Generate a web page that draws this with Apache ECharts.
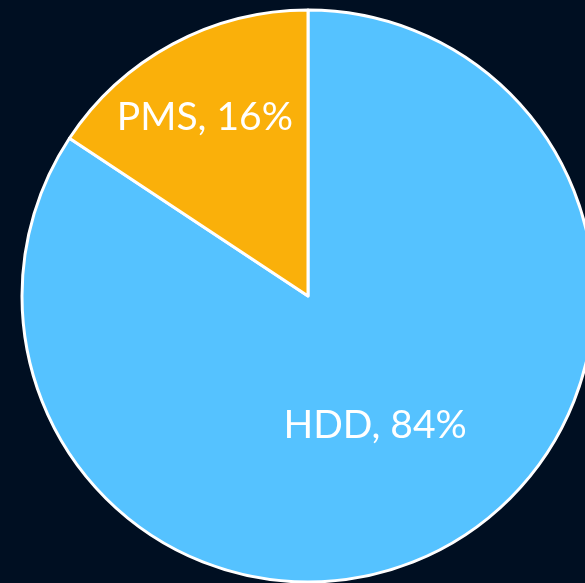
<!DOCTYPE html>
<html><head><meta charset="utf-8">
<style>html,body{margin:0;padding:0;background:#000f22;}#c{width:585px;height:583px;}</style>
<script src="https://cdn.jsdelivr.net/npm/echarts@6/dist/echarts.min.js"></script>
</head><body><div id="c"></div>
<script>
const categories = ['HDD', 'PMS'];
const values = [84.3, 15.7];
const colors = ['#55c2ff', '#fab00a'];
const labelShift = [[-2, 1], [-34, -50]];

const chart = echarts.init(document.getElementById('c'), null, {renderer: 'canvas'});
chart.setOption({
  backgroundColor: '#000f22',
  animation: false,
  series: [{
    type: 'pie',
    center: [308, 296],
    radius: 286,
    startAngle: 90,
    clockwise: true,
    data: categories.map((c, i) => ({name: c, value: values[i], itemStyle: {color: colors[i]}})),
    itemStyle: {borderColor: '#ffffff', borderWidth: 3},
    label: {
      show: true,
      position: 'inside',
      formatter: p => p.name + ', ' + Math.round(p.value) + '%',
      color: '#ffffff',
      fontFamily: 'Lato',
      fontSize: 39,
      fontWeight: 'normal'
    },
    labelLine: {show: false},
    labelLayout: p => ({dx: labelShift[p.dataIndex][0], dy: labelShift[p.dataIndex][1]}),
    emphasis: {disabled: true}
  }]
});
</script></body></html>
